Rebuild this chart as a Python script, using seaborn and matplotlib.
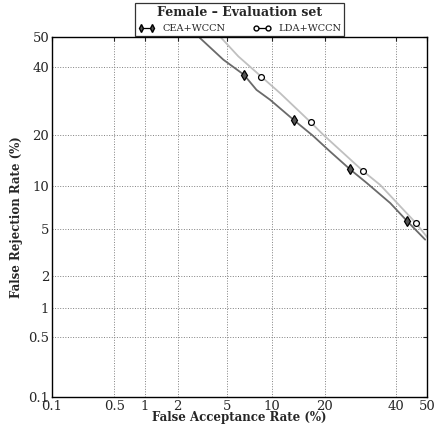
import numpy as np
import pandas as pd
import matplotlib
matplotlib.use('Agg')
import matplotlib.pyplot as plt
from matplotlib.lines import Line2D
import seaborn as sns
from statistics import NormalDist

# DET curves (FAR %, FRR %)
cea_far = [3.06, 4.66, 6.57, 8.0, 9.8, 13.7, 17.4, 21.2, 26.3, 31.0, 38.1, 43.5, 49.4]
cea_frr = [49.7, 42.3, 37.3, 32.5, 29.5, 23.7, 19.8, 16.3, 12.8, 10.5, 7.7, 5.7, 4.1]
lda_far = [4.5, 6.0, 8.6, 11.3, 16.9, 19.7, 29.9, 35.0, 46.4, 50.0]
lda_frr = [49.7, 43.4, 36.7, 31.5, 23.2, 20.0, 12.5, 10.2, 5.5, 4.3]

# marker points on each curve
cea_mark_far = [6.57, 13.7, 26.3, 43.5]
cea_mark_frr = [37.3, 23.7, 12.8, 5.7]
lda_mark_far = [8.6, 16.9, 29.9, 46.4]
lda_mark_frr = [36.7, 23.2, 12.5, 5.5]

ticks = [0.1, 0.5, 1, 2, 5, 10, 20, 40, 50]
tick_labels = ['0.1', '0.5', '1', '2', '5', '10', '20', '40', '50']

_nd = NormalDist()
_ppf = np.vectorize(_nd.inv_cdf, otypes=[float])
_cdf = np.vectorize(_nd.cdf, otypes=[float])


def probit(p):
    p = np.clip(np.asarray(p, dtype=float) / 100.0, 1e-9, 1 - 1e-9)
    return _ppf(p)


def inv_probit(z):
    return _cdf(np.asarray(z, dtype=float)) * 100.0


sns.set_style('white')
plt.rcParams['font.family'] = ['DejaVu Serif']

cea = pd.DataFrame({'far': cea_far, 'frr': cea_frr})
lda = pd.DataFrame({'far': lda_far, 'frr': lda_frr})

fig = plt.figure(figsize=(4.39, 4.33), dpi=100)
ax = fig.add_axes([0.1185, 0.0831, 0.8542, 0.8314])
ax.set_xscale('function', functions=(probit, inv_probit))
ax.set_yscale('function', functions=(probit, inv_probit))

sns.lineplot(data=lda, x='far', y='frr', sort=False, estimator=None, ax=ax,
             color='#c0c0c0', linewidth=1.3)
sns.lineplot(data=cea, x='far', y='frr', sort=False, estimator=None, ax=ax,
             color='#6a6a6a', linewidth=1.3)
ax.plot(cea_mark_far, cea_mark_frr, linestyle='none', marker='d', markersize=5,
        mfc='#555555', mec='black', mew=0.9)
ax.plot(lda_mark_far, lda_mark_frr, linestyle='none', marker='o', markersize=4.2,
        mfc='white', mec='black', mew=0.9)

ax.set_xlim(0.1, 50)
ax.set_ylim(0.1, 50)
ax.set_xticks(ticks)
ax.set_xticklabels(tick_labels)
ax.set_yticks(ticks)
ax.set_yticklabels(tick_labels)
ax.minorticks_off()
ax.tick_params(direction='in', top=True, right=True, length=3, width=0.8,
               labelsize=9.5, pad=2)
ax.grid(True, linestyle=':', color='#808080', linewidth=0.7)
for s in ax.spines.values():
    s.set_linewidth(1.0)
    s.set_color('black')

ax.set_xlabel('False Acceptance Rate (%)', fontsize=8.5, fontweight='bold', labelpad=-1)
ax.set_ylabel('False Rejection Rate (%)', fontsize=8.5, fontweight='bold', labelpad=4)

handles = [Line2D([0], [0], color='black', lw=0.9, marker='d', markersize=4,
                  mfc='#555555', mec='black'),
           Line2D([0], [0], color='black', lw=0.9, marker='o', markersize=3.5,
                  mfc='white', mec='black')]
leg = ax.legend(handles, ['CEA+WCCN', 'LDA+WCCN'], ncol=2, numpoints=2,
                loc='lower center', bbox_to_anchor=(0.5, 1.003),
                title='Female \u2013 Evaluation set', fontsize=7,
                title_fontproperties={'weight': 'bold', 'size': 9},
                frameon=True, fancybox=False, edgecolor='black',
                handlelength=1.8, columnspacing=2.8, borderpad=0.3,
                handletextpad=0.8, borderaxespad=0)
leg.get_frame().set_linewidth(0.9)

fig.savefig('out.png', dpi=100)
plt.close(fig)
